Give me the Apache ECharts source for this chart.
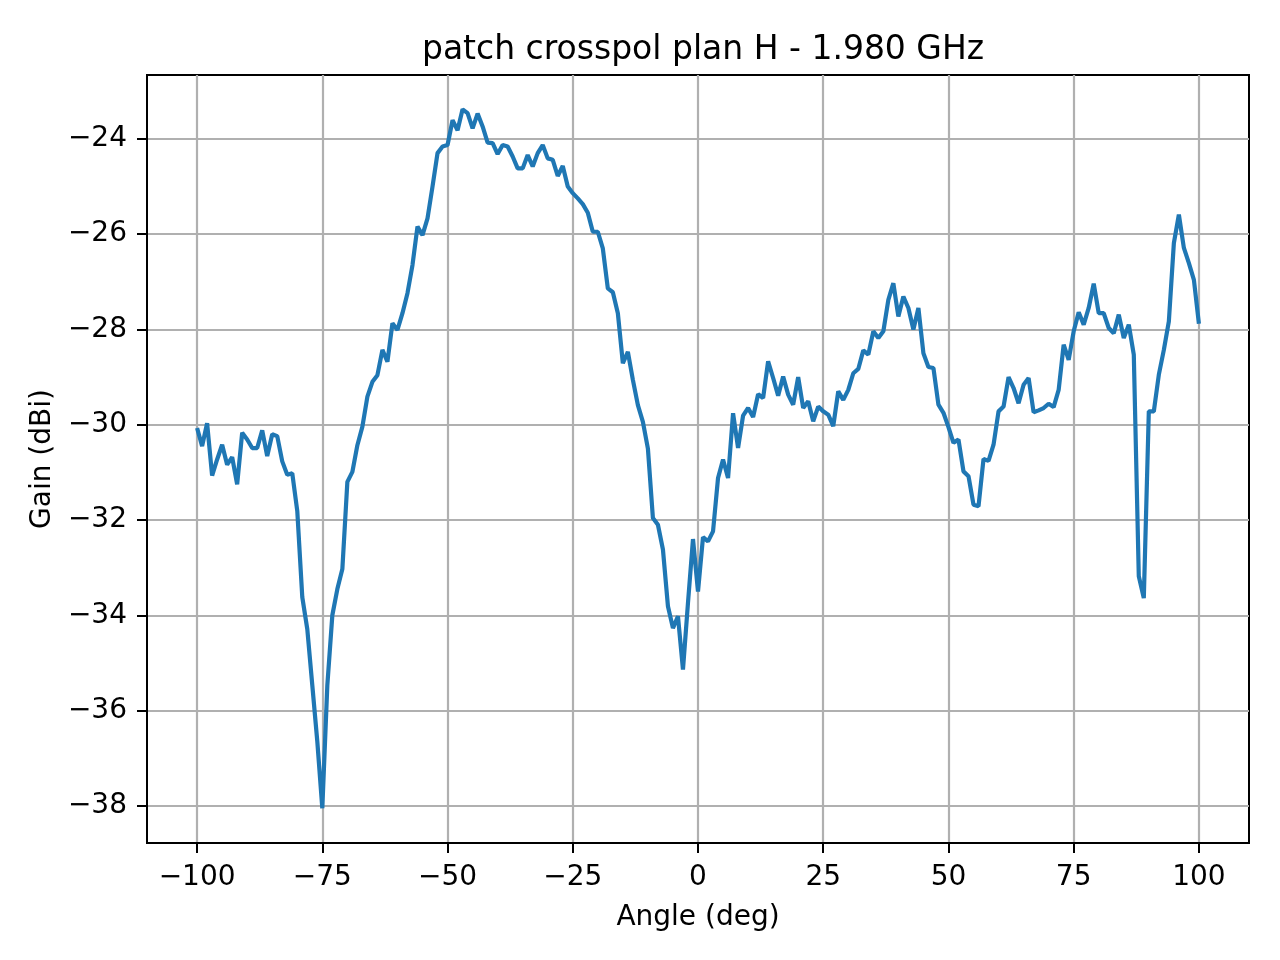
<!DOCTYPE html>
<html>
<head>
<meta charset="utf-8">
<title>patch crosspol plan H - 1.980 GHz</title>
<script src="https://cdn.jsdelivr.net/npm/echarts@6/dist/echarts.min.js"></script>
<style>
    html, body { margin: 0; padding: 0; background: #fff; }
    #chart { width: 1280px; height: 960px; }
</style>
</head>
<body>
<div id="chart"></div>
<script>

var angles = [
    -100, -99, -98, -97, -96, -95, -94, -93, -92, -91,
    -90, -89, -88, -87, -86, -85, -84, -83, -82, -81,
    -80, -79, -78, -77, -76, -75, -74, -73, -72, -71,
    -70, -69, -68, -67, -66, -65, -64, -63, -62, -61,
    -60, -59, -58, -57, -56, -55, -54, -53, -52, -51,
    -50, -49, -48, -47, -46, -45, -44, -43, -42, -41,
    -40, -39, -38, -37, -36, -35, -34, -33, -32, -31,
    -30, -29, -28, -27, -26, -25, -24, -23, -22, -21,
    -20, -19, -18, -17, -16, -15, -14, -13, -12, -11,
    -10, -9, -8, -7, -6, -5, -4, -3, -2, -1,
    0, 1, 2, 3, 4, 5, 6, 7, 8, 9,
    10, 11, 12, 13, 14, 15, 16, 17, 18, 19,
    20, 21, 22, 23, 24, 25, 26, 27, 28, 29,
    30, 31, 32, 33, 34, 35, 36, 37, 38, 39,
    40, 41, 42, 43, 44, 45, 46, 47, 48, 49,
    50, 51, 52, 53, 54, 55, 56, 57, 58, 59,
    60, 61, 62, 63, 64, 65, 66, 67, 68, 69,
    70, 71, 72, 73, 74, 75, 76, 77, 78, 79,
    80, 81, 82, 83, 84, 85, 86, 87, 88, 89,
    90, 91, 92, 93, 94, 95, 96, 97, 98, 99,
    100
];

// gain in dBi, one value per angle above
var gain = [
    -30.07, -30.45, -29.97, -31.07, -30.73, -30.42, -30.84, -30.68, -31.25, -30.17,
    -30.31, -30.49, -30.49, -30.12, -30.66, -30.20, -30.24, -30.77, -31.05, -31.02,
    -31.81, -33.62, -34.29, -35.47, -36.65, -38.05, -35.47, -34.00, -33.45, -33.03,
    -31.20, -30.99, -30.43, -30.04, -29.41, -29.10, -28.96, -28.43, -28.68, -27.87,
    -28.01, -27.66, -27.24, -26.65, -25.84, -26.02, -25.67, -25.00, -24.30, -24.16,
    -24.13, -23.61, -23.82, -23.38, -23.46, -23.78, -23.47, -23.74, -24.08, -24.09,
    -24.32, -24.13, -24.16, -24.37, -24.62, -24.62, -24.34, -24.58, -24.30, -24.13,
    -24.41, -24.44, -24.78, -24.57, -25.00, -25.14, -25.25, -25.37, -25.55, -25.95,
    -25.95, -26.30, -27.14, -27.22, -27.66, -28.71, -28.47, -29.06, -29.59, -29.94,
    -30.50, -31.96, -32.10, -32.62, -33.81, -34.27, -34.02, -35.14, -33.74, -32.40,
    -33.50, -32.36, -32.45, -32.24, -31.12, -30.73, -31.12, -29.76, -30.49, -29.81,
    -29.65, -29.84, -29.36, -29.44, -28.67, -29.02, -29.39, -28.99, -29.37, -29.58,
    -29.00, -29.65, -29.51, -29.93, -29.62, -29.72, -29.79, -30.03, -29.30, -29.48,
    -29.27, -28.92, -28.83, -28.44, -28.53, -28.04, -28.18, -28.04, -27.38, -27.03,
    -27.73, -27.31, -27.55, -28.00, -27.55, -28.50, -28.79, -28.81, -29.58, -29.75,
    -30.05, -30.38, -30.31, -30.98, -31.08, -31.68, -31.71, -30.72, -30.76, -30.42,
    -29.72, -29.62, -29.00, -29.23, -29.55, -29.16, -29.02, -29.74, -29.70, -29.65,
    -29.56, -29.63, -29.27, -28.32, -28.64, -28.04, -27.64, -27.90, -27.55, -27.04,
    -27.66, -27.66, -27.97, -28.08, -27.69, -28.18, -27.90, -28.53, -33.18, -33.64,
    -29.72, -29.72, -28.95, -28.43, -27.83, -26.19, -25.59, -26.29, -26.61, -26.96,
    -27.88
];

var xTicks = [-100, -75, -50, -25, 0, 25, 50, 75, 100];
var yTicks = [-38, -36, -34, -32, -30, -28, -26, -24];

var FONT = 'DejaVu Sans';

// matplotlib prints a real minus sign
function fmt(v) {
    return String(v).replace('-', '\u2212');
}

var points = [];
for (var i = 0; i < angles.length; i++) {
    points.push([angles[i], gain[i]]);
}

var chart = echarts.init(document.getElementById('chart'), null, {renderer: 'canvas'});

var option = {
    animation: false,
    backgroundColor: '#fff',
    title: {
        text: 'patch crosspol plan H - 1.980 GHz',
        // centred over the plot area, not the page
        left: 698,
        textAlign: 'center',
        top: 29,
        textStyle: {
            fontFamily: FONT,
            fontSize: 33,
            fontWeight: 'normal',
            color: '#000'
        }
    },
    grid: {
        left: 147,
        right: 31,
        top: 75,
        bottom: 117,
        show: true,
        borderColor: '#000',
        borderWidth: 2,
        containLabel: false
    },
    xAxis: {
        type: 'value',
        min: -110,
        max: 110,
        name: 'Angle (deg)',
        nameLocation: 'middle',
        nameGap: 61,
        nameTextStyle: {fontFamily: FONT, fontSize: 28, color: '#000'},
        axisLine: {show: true, onZero: false, lineStyle: {color: '#000', width: 2}},
        axisTick: {show: true, length: 10, customValues: xTicks, lineStyle: {color: '#000', width: 2}},
        axisLabel: {
            customValues: xTicks,
            margin: 21,
            fontFamily: FONT,
            fontSize: 28,
            color: '#000',
            formatter: fmt
        },
        splitLine: {show: true, lineStyle: {color: '#b0b0b0', width: 2.2}}
    },
    yAxis: {
        type: 'value',
        min: -38.78,
        max: -22.66,
        name: 'Gain (dBi)',
        nameLocation: 'middle',
        nameGap: 90,
        nameTextStyle: {fontFamily: FONT, fontSize: 28, color: '#000'},
        axisLine: {show: true, onZero: false, lineStyle: {color: '#000', width: 2}},
        axisTick: {show: true, length: 10, customValues: yTicks, lineStyle: {color: '#000', width: 2}},
        axisLabel: {
            customValues: yTicks,
            margin: 20,
            fontFamily: FONT,
            fontSize: 28,
            color: '#000',
            formatter: fmt
        },
        splitLine: {show: true, lineStyle: {color: '#b0b0b0', width: 2.2}}
    },
    series: [{
        type: 'line',
        data: points,
        showSymbol: false,
        symbol: 'none',
        lineStyle: {color: '#1f77b4', width: 4.2},
        z: 3
    }]
};

chart.setOption(option);

</script>
</body>
</html>
